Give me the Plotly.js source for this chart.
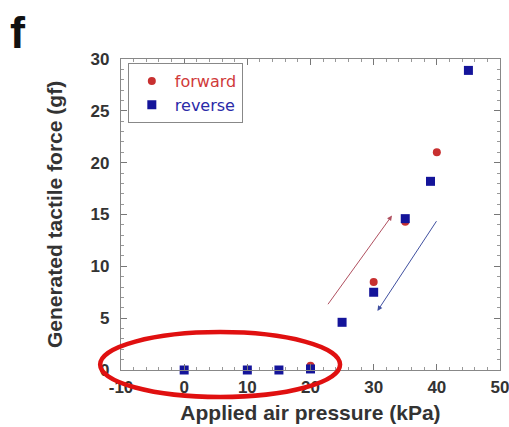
<!DOCTYPE html>
<html>
<head>
<meta charset="utf-8">
<script src="https://cdn.plot.ly/plotly-3.0.1.min.js"></script>
<style>html,body{margin:0;padding:0;background:#fff;}#chart{width:509px;height:427px;}</style>
</head>
<body>
<div id="chart"></div>
<script>
// Data
const forwardPressure = [0, 10, 15, 20, 30, 35, 40];
const forwardForce    = [0, 0, 0, 0.4, 8.5, 14.3, 21.0];
const reversePressure = [0, 10, 15, 20, 25, 30, 35, 39, 45];
const reverseForce    = [0, 0, 0, 0.1, 4.6, 7.5, 14.6, 18.2, 28.9];
const xTicks = [-10, 0, 10, 20, 30, 40, 50];
const yTicks = [0, 5, 10, 15, 20, 25, 30];

const font = "Liberation Sans, Arial, sans-serif";

const traces = [
  {
    x: forwardPressure, y: forwardForce, type: 'scatter', mode: 'markers',
    name: '<span style="color:#d03a3a">forward</span>',
    marker: {symbol: 'circle', size: 8, color: '#c83030'},
    cliponaxis: false
  },
  {
    x: reversePressure, y: reverseForce, type: 'scatter', mode: 'markers',
    name: '<span style="color:#2a2aa8">reverse</span>',
    marker: {symbol: 'square', size: 9, color: '#14149a'},
    cliponaxis: false
  }
];

const axisCommon = {
  showgrid: false, zeroline: false, showline: true, mirror: 'allticks',
  linecolor: '#888', linewidth: 1.2,
  ticks: 'inside', ticklen: 6, tickcolor: '#777', tickwidth: 1,
  tickfont: {family: font, size: 17, color: '#333', weight: 'bold'},
  ticklabeloverflow: 'allow',
  minor: {ticks: 'inside', ticklen: 3, tickcolor: '#999', tickwidth: 1}
};

const layout = {
  width: 509, height: 427,
  margin: {l: 121, r: 9, t: 59, b: 57},
  paper_bgcolor: '#fff', plot_bgcolor: '#fff',
  showlegend: true,
  legend: {
    x: 0.018, y: 0.987, xanchor: 'left', yanchor: 'top',
    bgcolor: '#fff', bordercolor: '#888', borderwidth: 1,
    font: {family: "DejaVu Sans, sans-serif", size: 16},
    itemwidth: 36, tracegroupgap: 0
  },
  xaxis: Object.assign({}, axisCommon, {
    range: [-10, 50], tickvals: xTicks, ticktext: xTicks.map(String),
    minor: Object.assign({}, axisCommon.minor, {dtick: 2}),
    ticklabelstandoff: 1,
    title: {text: 'Applied air pressure (kPa)', font: {family: font, size: 21, color: '#333', weight: 'bold'}, standoff: 9}
  }),
  yaxis: Object.assign({}, axisCommon, {
    range: [0, 30], tickvals: yTicks, ticktext: yTicks.map(String),
    minor: Object.assign({}, axisCommon.minor, {dtick: 1}),
    ticklabelstandoff: 7,
    title: {text: 'Generated tactile force (gf)', font: {family: font, size: 21, color: '#333', weight: 'bold'}, standoff: 22}
  }),
  annotations: [
    {xref: 'paper', yref: 'paper', x: -0.298, y: 1.175, xanchor: 'left', yanchor: 'top',
     text: 'f', showarrow: false, font: {family: font, size: 45, color: '#111', weight: 'bold'}},
    {x: 32.9, y: 14.9, ax: 22.6, ay: 6.2, xref: 'x', yref: 'y', axref: 'x', ayref: 'y',
     showarrow: true, arrowhead: 2, arrowsize: 1, arrowwidth: 1, arrowcolor: '#b05060', text: ''},
    {x: 30.6, y: 5.7, ax: 40.1, ay: 14.5, xref: 'x', yref: 'y', axref: 'x', ayref: 'y',
     showarrow: true, arrowhead: 2, arrowsize: 1, arrowwidth: 1, arrowcolor: '#4050a0', text: ''}
  ],
  shapes: [
    {type: 'circle', xref: 'paper', yref: 'paper', x0: -0.055, x1: 0.578, y0: -0.087, y1: 0.122,
     line: {color: '#e01010', width: 4.5}, layer: 'above'}
  ]
};

Plotly.newPlot('chart', traces, layout, {displayModeBar: false, staticPlot: true});
</script>
</body>
</html>
